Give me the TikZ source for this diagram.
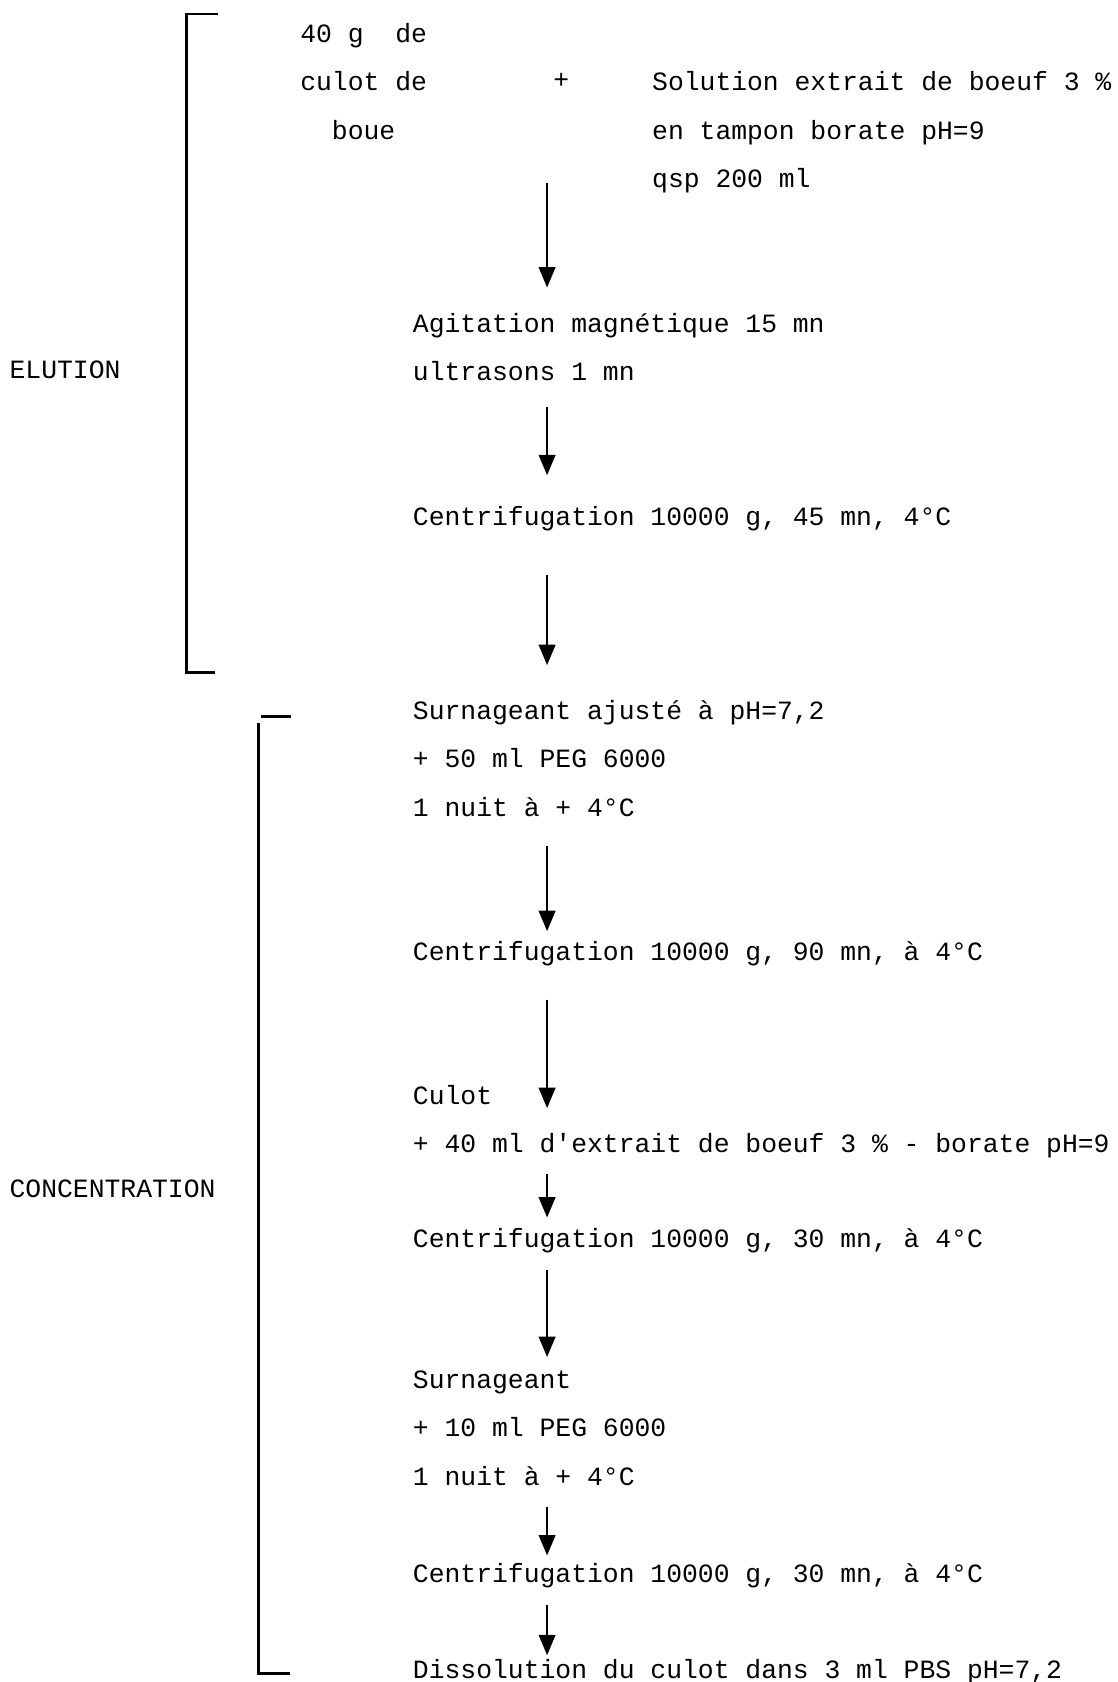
\documentclass[tikz,border=0pt]{standalone}
\usepackage{fontspec}
\setmonofont{Liberation Mono}
\usetikzlibrary{arrows.meta}
\begin{document}
\begin{tikzpicture}[
        x=0.02cm, y=-0.02cm,
        line width=1.1pt,
        font=\ttfamily\fontsize{14}{25.6}\selectfont
    ]
    \tikzset{
        stepnode/.style = {anchor=north west, align=left, inner sep=0pt},
        phase/.style = {anchor=west, inner sep=0pt},
        bracket/.style = {line width=1.5pt},
        flow/.style = {-{Triangle[length=0.38cm,width=0.31cm]}},
    }
    \useasboundingbox (0,0) rectangle (1042,1568);
    \coordinate (ax) at (510,0);
    % elution
    \node[stepnode] (src) at (279,21) {40 g~~de\\culot de\\~~boue};
    \node[phase] (plus) at (515,75) {+};
    \node[stepnode] (sol) at (607,66) {Solution extrait de boeuf 3 \%\\en tampon borate pH=9\\qsp 200 ml};
    \node[stepnode] (agit) at (384,291) {Agitation magnétique 15 mn\\ultrasons 1 mn};
    \node[stepnode] (cent1) at (384,471) {Centrifugation 10000 g, 45 mn, 4°C};
    % concentration
    \node[stepnode] (surn1) at (384,652) {Surnageant ajusté à pH=7,2\\+ 50 ml PEG 6000\\1 nuit à + 4°C};
    \node[stepnode] (cent2) at (384,877) {Centrifugation 10000 g, 90 mn, à 4°C};
    \node[stepnode] (culot) at (384,1011) {Culot\\+ 40 ml d'extrait de boeuf 3 \% - borate pH=9};
    \node[stepnode] (cent3) at (384,1144) {Centrifugation 10000 g, 30 mn, à 4°C};
    \node[stepnode] (surn2) at (384,1277) {Surnageant\\+ 10 ml PEG 6000\\1 nuit à + 4°C};
    \node[stepnode] (cent4) at (384,1456) {Centrifugation 10000 g, 30 mn, à 4°C};
    \node[stepnode] (diss) at (384,1546) {Dissolution du culot dans 3 ml PBS pH=7,2};
    % arrows
    \draw[flow, shorten <=0.8cm, shorten >=0.46cm] (src.south -| ax) -- (agit.north -| ax);
    \draw[flow, shorten <=0.46cm, shorten >=0.56cm] (agit.south -| ax) -- (cent1.north -| ax);
    \draw[flow, shorten <=0.8cm, shorten >=0.64cm] (cent1.south -| ax) -- (surn1.north -| ax);
    \draw[flow, shorten <=0.54cm, shorten >=0.18cm] (surn1.south -| ax) -- (cent2.north -| ax);
    \draw[flow, shorten <=0.6cm, shorten >=-0.44cm] (cent2.south -| ax) -- (culot.north -| ax);
    \draw[flow, shorten <=0.28cm, shorten >=0.18cm] (culot.south -| ax) -- (cent3.north -| ax);
    \draw[flow, shorten <=0.3cm, shorten >=0.24cm] (cent3.south -| ax) -- (surn2.north -| ax);
    \draw[flow, shorten <=0.38cm, shorten >=0.12cm] (surn2.south -| ax) -- (cent4.north -| ax);
    \draw[flow, shorten <=0.3cm, shorten >=0.06cm] (cent4.south -| ax) -- (diss.north -| ax);
    % brackets
    \node[phase] (elu) at (8,345) {ELUTION};
    \draw[bracket] (203,13) -- (174,13) -- (174,627) -- (200,627);
    \node[phase] (conc) at (8,1108) {CONCENTRATION};
    \draw[bracket] (243,668) -- (271,668);
    \draw[bracket] (241,674) -- (241,1560) -- (270,1560);
\end{tikzpicture}
\end{document}
